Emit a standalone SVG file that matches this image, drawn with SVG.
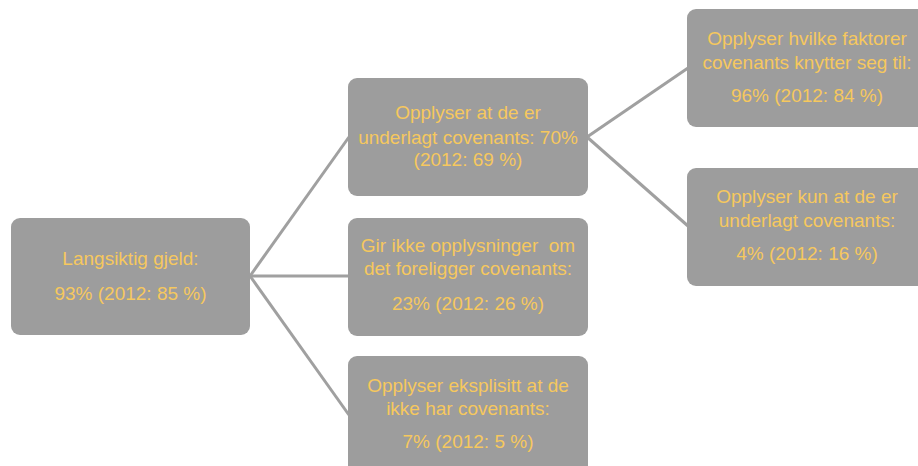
<svg xmlns="http://www.w3.org/2000/svg" width="918" height="466" viewBox="0 0 918 466">
  <style>
    .box { fill: #9d9d9d; }
    .lbl { font-family: "Liberation Sans", Arial, sans-serif; font-size: 19px; fill: #f6c85e; text-anchor: middle; white-space: pre; }
    .conn { stroke: #a0a0a0; stroke-width: 3; fill: none; }
  </style>
  <rect width="918" height="466" fill="#ffffff"/>
  <g id="connectors">
    <line class="conn" x1="250" y1="276" x2="349" y2="137"/>
    <line class="conn" x1="250" y1="276" x2="349" y2="276"/>
    <line class="conn" x1="250" y1="276" x2="349" y2="415"/>
    <line class="conn" x1="587" y1="137" x2="688" y2="68"/>
    <line class="conn" x1="587" y1="137" x2="688" y2="226"/>
  </g>
  <g id="node-langsiktig">
    <rect class="box" x="11" y="218" width="239" height="117" rx="9"/>
    <text class="lbl" x="130.5" y="265">Langsiktig gjeld:</text>
    <text class="lbl" x="130.5" y="300">93% (2012: 85 %)</text>
  </g>
  <g id="node-underlagt">
    <rect class="box" x="348" y="78" width="240" height="118" rx="9"/>
    <text class="lbl" x="468" y="119">Opplyser at de er</text>
    <text class="lbl" x="468" y="144">underlagt covenants: 70%</text>
    <text class="lbl" x="468" y="166">(2012: 69 %)</text>
  </g>
  <g id="node-ikke-opplysninger">
    <rect class="box" x="348" y="218" width="240" height="118" rx="9"/>
    <text class="lbl" x="468" y="252">Gir ikke opplysninger  om</text>
    <text class="lbl" x="468" y="275">det foreligger covenants:</text>
    <text class="lbl" x="468" y="310">23% (2012: 26 %)</text>
  </g>
  <g id="node-eksplisitt">
    <rect class="box" x="348" y="356" width="240" height="118" rx="9"/>
    <text class="lbl" x="468" y="392">Opplyser eksplisitt at de</text>
    <text class="lbl" x="468" y="415">ikke har covenants:</text>
    <text class="lbl" x="468" y="448">7% (2012: 5 %)</text>
  </g>
  <g id="node-faktorer">
    <rect class="box" x="687" y="9" width="240" height="118" rx="9"/>
    <text class="lbl" x="807" y="45">Opplyser hvilke faktorer</text>
    <text class="lbl" x="807" y="69">covenants knytter seg til:</text>
    <text class="lbl" x="807" y="102">96% (2012: 84 %)</text>
  </g>
  <g id="node-kun">
    <rect class="box" x="687" y="168" width="240" height="118" rx="9"/>
    <text class="lbl" x="807" y="203">Opplyser kun at de er</text>
    <text class="lbl" x="807" y="227">underlagt covenants:</text>
    <text class="lbl" x="807" y="260">4% (2012: 16 %)</text>
  </g>
</svg>
